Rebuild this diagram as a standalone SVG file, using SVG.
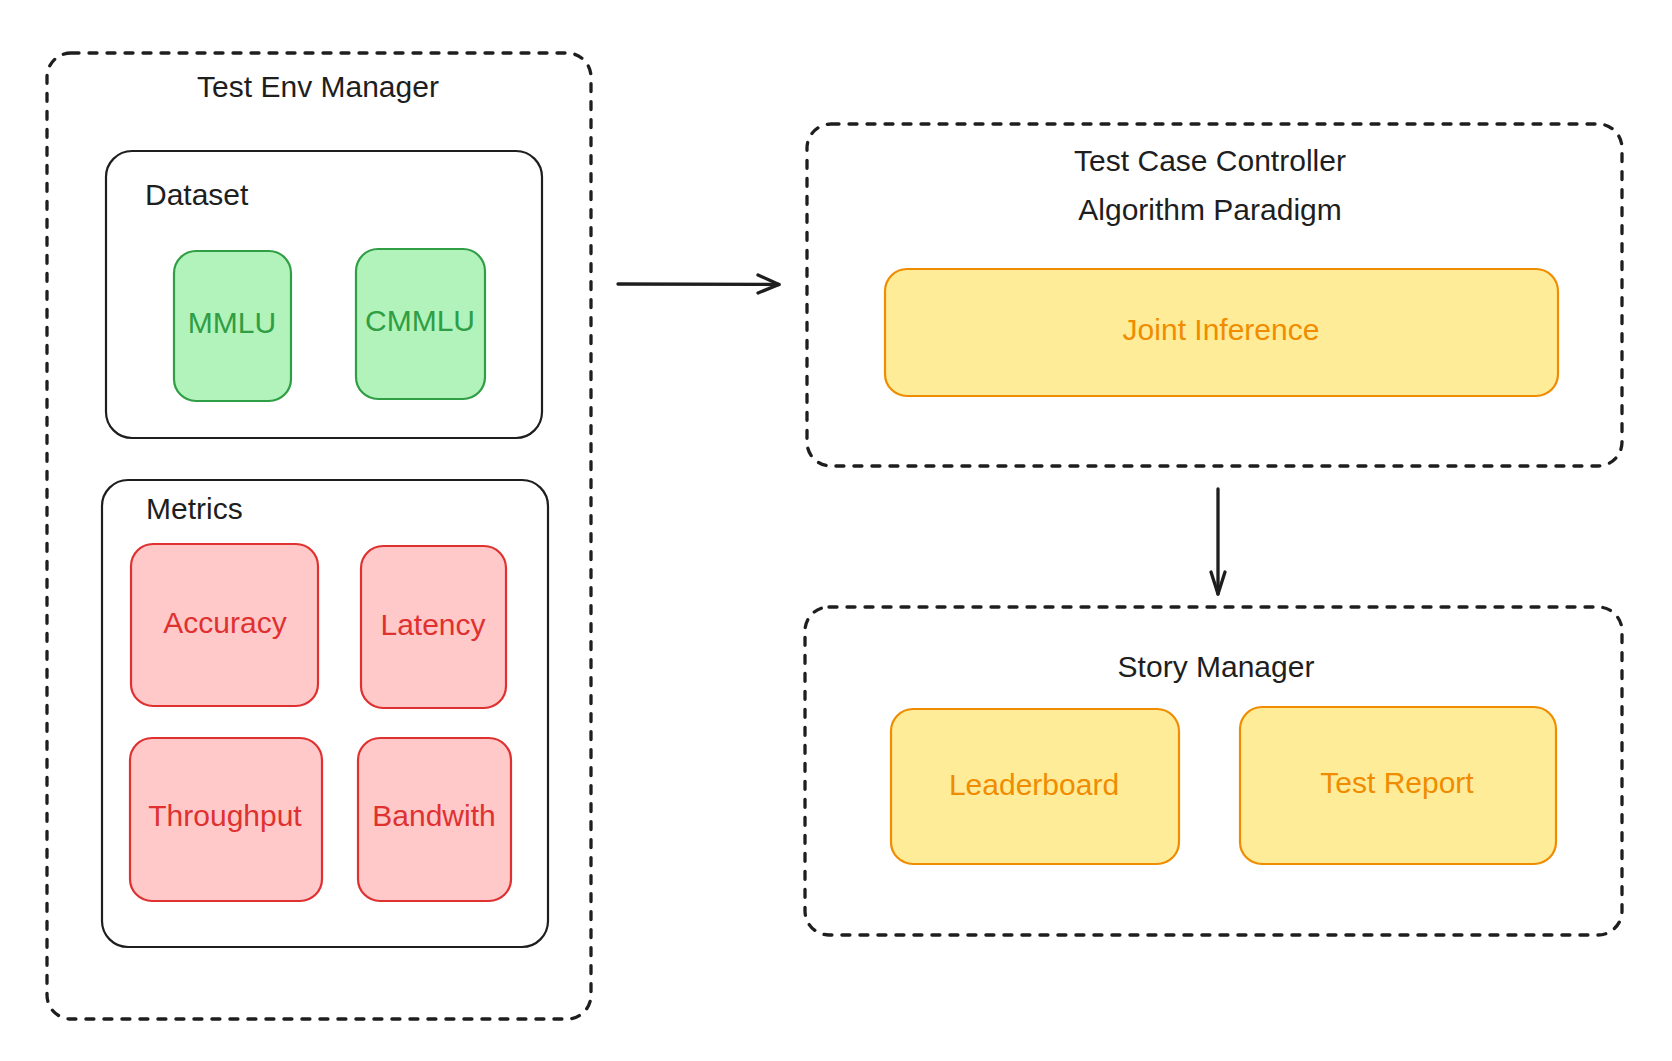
<svg xmlns="http://www.w3.org/2000/svg" width="1672" height="1061" viewBox="0 0 1672 1061">
<style>
text{font-family:"Liberation Sans",Arial,Helvetica,sans-serif;font-size:30px}
.c{text-anchor:middle}
.dash{fill:none;stroke:#1e1e1e;stroke-width:3.3;stroke-dasharray:8 10;stroke-linecap:round}
.solid{fill:#ffffff;stroke:#1e1e1e;stroke-width:2.2}
.g{fill:#b2f2bb;stroke:#2f9e44;stroke-width:2.2}
.r{fill:#ffc9c9;stroke:#e03131;stroke-width:2.2}
.y{fill:#ffec99;stroke:#f08c00;stroke-width:2.2}
.tk{fill:#1e1e1e}
.tg{fill:#2f9e44}
.tr{fill:#e03131}
.ty{fill:#f08c00}
.conn{fill:none;stroke:#1e1e1e;stroke-width:3.3;stroke-linecap:round;stroke-linejoin:round}
</style>
<rect x="0" y="0" width="1672" height="1061" fill="#ffffff"/>
<g id="test-env-manager">
<rect class="dash" x="47" y="53" width="544" height="966" rx="24"/>
<text class="tk c" x="318" y="97">Test Env Manager</text>
</g>
<g id="dataset">
<rect class="solid" x="106" y="151" width="436" height="287" rx="26"/>
<text class="tk" x="145" y="205">Dataset</text>
</g>
<g id="mmlu">
<rect class="g" x="174" y="251" width="117" height="150" rx="22"/>
<text class="tg c" x="232" y="333">MMLU</text>
</g>
<g id="cmmlu">
<rect class="g" x="356" y="249" width="129" height="150" rx="22"/>
<text class="tg c" x="420" y="331">CMMLU</text>
</g>
<g id="metrics">
<rect class="solid" x="102" y="480" width="446" height="467" rx="26"/>
<text class="tk" x="146" y="519">Metrics</text>
</g>
<g id="accuracy">
<rect class="r" x="131" y="544" width="187" height="162" rx="22"/>
<text class="tr c" x="225" y="633">Accuracy</text>
</g>
<g id="latency">
<rect class="r" x="361" y="546" width="145" height="162" rx="22"/>
<text class="tr c" x="433" y="635">Latency</text>
</g>
<g id="throughput">
<rect class="r" x="130" y="738" width="192" height="163" rx="22"/>
<text class="tr c" x="225" y="826">Throughput</text>
</g>
<g id="bandwith">
<rect class="r" x="358" y="738" width="153" height="163" rx="22"/>
<text class="tr c" x="434" y="826">Bandwith</text>
</g>
<g id="test-case-controller">
<rect class="dash" x="807" y="124" width="815" height="342" rx="24"/>
<text class="tk c" x="1210" y="171">Test Case Controller</text>
<text class="tk c" x="1210" y="220">Algorithm Paradigm</text>
</g>
<g id="joint-inference">
<rect class="y" x="885" y="269" width="673" height="127" rx="22"/>
<text class="ty c" x="1221" y="340">Joint Inference</text>
</g>
<g id="story-manager">
<rect class="dash" x="805" y="607" width="817" height="328" rx="24"/>
<text class="tk c" x="1216" y="677">Story Manager</text>
</g>
<g id="leaderboard">
<rect class="y" x="891" y="709" width="288" height="155" rx="22"/>
<text class="ty c" x="1034" y="795">Leaderboard</text>
</g>
<g id="test-report">
<rect class="y" x="1240" y="707" width="316" height="157" rx="22"/>
<text class="ty c" x="1397" y="793">Test Report</text>
</g>
<g id="connectors">
<path class="conn" d="M618 284 L779 284.5"/>
<path class="conn" d="M758 275 L779 284.5 L758 293"/>
<path class="conn" d="M1218 489 L1218 594"/>
<path class="conn" d="M1211 572 L1218 594 L1225 572"/>
</g>
</svg>
